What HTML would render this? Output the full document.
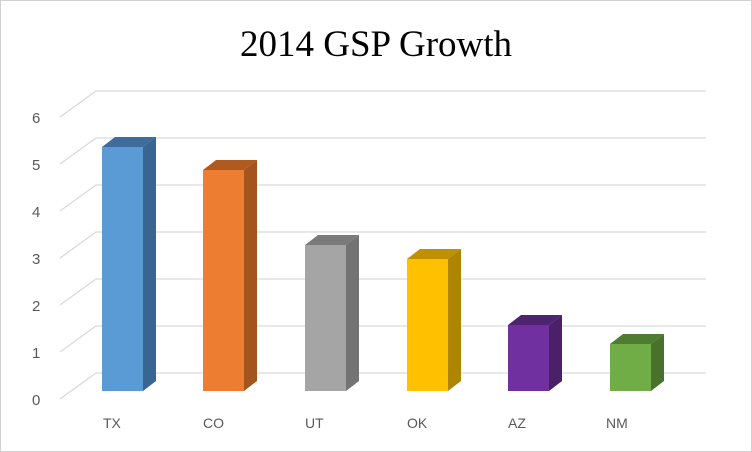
<!DOCTYPE html>
<html><head><style>
html,body{margin:0;padding:0;background:#fff}
svg{display:block}
</style></head><body>
<svg width="752" height="452" xmlns="http://www.w3.org/2000/svg">
<rect x="0.5" y="0.5" width="751" height="451" fill="#fff" stroke="#d0d0d0"/>
<text x="376" y="56" font-family="Liberation Serif, serif" font-size="37" text-anchor="middle" fill="#000">2014 GSP Growth</text>
<g stroke="#d9d9d9" stroke-width="1.3" fill="none">
<path d="M60 117L96 91H706M60 164L96 138H706M60 211L96 185H706M60 258L96 232H706M60 305L96 279H706M60 352L96 326H706M60 399L96 373H706"/>
</g>
<g font-family="Liberation Sans, sans-serif" font-size="15" fill="#595959">
<text x="32" y="123">6</text><text x="32" y="170">5</text><text x="32" y="217">4</text>
<text x="32" y="264">3</text><text x="32" y="311">2</text><text x="32" y="358">1</text><text x="32" y="405">0</text>
</g>
<g id="bars"></g>
<g font-family="Liberation Sans, sans-serif" font-size="14" fill="#595959">
<text x="103" y="428">TX</text><text x="203" y="428">CO</text><text x="305" y="428">UT</text>
<text x="407" y="428">OK</text><text x="508" y="428">AZ</text><text x="606" y="428">NM</text>
</g>
<!-- bars: x, top -->
<g>
<polygon points="102,147 143,147 156,137 115,137" fill="#3f6c9c"/>
<polygon points="143,147 156,137 156,381 143,391" fill="#386592"/>
<rect x="102" y="147" width="41" height="244" fill="#5b9bd5"/>

<polygon points="203,170 244,170 257,160 216,160" fill="#b05a20"/>
<polygon points="244,170 257,160 257,381 244,391" fill="#a4541d"/>
<rect x="203" y="170" width="41" height="221" fill="#ed7d31"/>

<polygon points="305,245 346,245 359,235 318,235" fill="#7a7a7a"/>
<polygon points="346,245 359,235 359,381 346,391" fill="#737373"/>
<rect x="305" y="245" width="41" height="146" fill="#a5a5a5"/>

<polygon points="407,259 448,259 461,249 420,249" fill="#bf9000"/>
<polygon points="448,259 461,249 461,381 448,391" fill="#ad8500"/>
<rect x="407" y="259" width="41" height="132" fill="#ffc000"/>

<polygon points="508,325 549,325 562,315 521,315" fill="#4e2471"/>
<polygon points="549,325 562,315 562,381 549,391" fill="#4a2068"/>
<rect x="508" y="325" width="41" height="66" fill="#7030a0"/>

<polygon points="610,344 651,344 664,334 623,334" fill="#4e7d31"/>
<polygon points="651,344 664,334 664,381 651,391" fill="#48722c"/>
<rect x="610" y="344" width="41" height="47" fill="#70ad47"/>
</g>
</svg>
</body></html>
